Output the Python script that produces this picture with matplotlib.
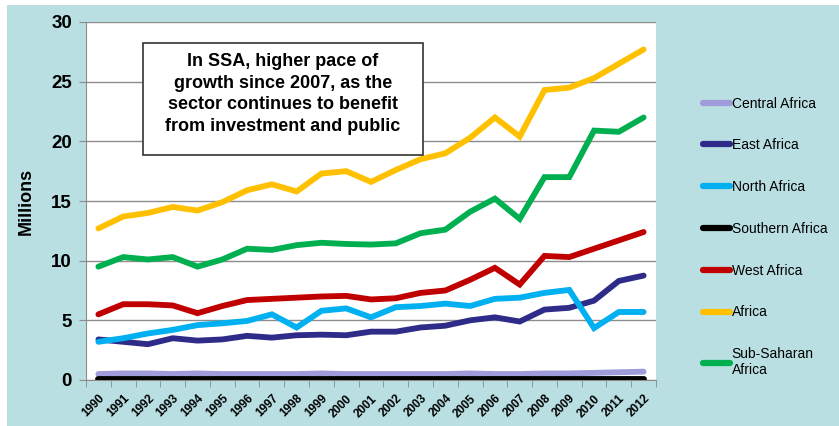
import matplotlib.pyplot as plt
from matplotlib.patches import Rectangle

plt.rcParams['font.family'] = ['Liberation Sans', 'DejaVu Sans']

years = [str(y) for y in range(1990, 2013)]

central = [0.5, 0.55, 0.55, 0.5, 0.55, 0.5, 0.5, 0.5, 0.5, 0.55, 0.5, 0.5,
           0.5, 0.5, 0.5, 0.55, 0.5, 0.5, 0.55, 0.55, 0.6, 0.65, 0.7]
east = [3.4, 3.2, 3.0, 3.5, 3.3, 3.4, 3.7, 3.55, 3.75, 3.8, 3.75, 4.05,
        4.05, 4.4, 4.55, 5.0, 5.25, 4.9, 5.9, 6.05, 6.65, 8.3, 8.75]
north = [3.2, 3.5, 3.9, 4.2, 4.6, 4.75, 4.95, 5.5, 4.4, 5.8, 6.0, 5.25,
         6.1, 6.2, 6.4, 6.2, 6.8, 6.9, 7.3, 7.55, 4.35, 5.7, 5.7]
southern = [0.05] * 23
west = [5.5, 6.35, 6.35, 6.25, 5.6, 6.2, 6.7, 6.8, 6.9, 7.0, 7.05, 6.75,
        6.85, 7.3, 7.5, 8.4, 9.4, 8.0, 10.4, 10.3, 11.0, 11.7, 12.4]
africa = [12.7, 13.7, 14.0, 14.5, 14.2, 14.9, 15.9, 16.4, 15.8, 17.3, 17.5, 16.6,
          17.6, 18.5, 19.0, 20.3, 22.0, 20.4, 24.3, 24.5, 25.3, 26.5, 27.7]
ssa = [9.5, 10.3, 10.1, 10.3, 9.5, 10.1, 11.0, 10.9, 11.3, 11.5, 11.4, 11.35,
       11.45, 12.3, 12.6, 14.1, 15.2, 13.5, 17.0, 17.0, 20.9, 20.8, 22.0]

series = [
    ('Central Africa', central, '#A09CDC'),
    ('East Africa', east, '#2E2C88'),
    ('North Africa', north, '#00B0F0'),
    ('Southern Africa', southern, '#000000'),
    ('West Africa', west, '#C00000'),
    ('Africa', africa, '#FFC000'),
    ('Sub-Saharan\nAfrica', ssa, '#00B050'),
]

W, H = 839, 426
fig = plt.figure(figsize=(W / 100, H / 100), dpi=100)
fig.patches.append(Rectangle((7 / W, 0), 1, 1 - 5 / H, transform=fig.transFigure,
                             facecolor='#B9DFE2', edgecolor='none', zorder=-10))

ax = fig.add_axes([86 / W, 46 / H, 570 / W, 358 / H])
ax.set_facecolor('white')

x = list(range(len(years)))
# draw back-to-front so Africa and SSA sit on top
draw_order = [0, 3, 1, 2, 4, 5, 6]
lines = {}
for i in draw_order:
    name, vals, col = series[i]
    ln, = ax.plot(x, vals, color=col, lw=4.2, solid_capstyle='round',
                  solid_joinstyle='miter', label=name, zorder=3)
    lines[i] = ln

ax.set_xlim(-0.5, len(years) - 0.5)
ax.set_ylim(0, 30)
ax.set_yticks(range(0, 31, 5))
ax.grid(axis='y', color='#8C8C8C', lw=1)
ax.set_axisbelow(True)
ax.tick_params(axis='y', labelsize=13.5, length=5, color='#8C8C8C', pad=5)
for lbl in ax.get_yticklabels():
    lbl.set_fontweight('bold')

ax.set_xticks(x)
ax.set_xticklabels(years, rotation=45, ha='right', rotation_mode='anchor',
                   fontsize=8.5, fontweight='bold')
ax.set_xticks([i - 0.5 for i in range(len(years) + 1)], minor=True)
ax.tick_params(axis='x', which='major', length=0, pad=9)
ax.tick_params(axis='x', which='minor', length=5, color='#8C8C8C')

for s in ['top', 'right']:
    ax.spines[s].set_visible(False)
for s in ['left', 'bottom']:
    ax.spines[s].set_color('#8C8C8C')

ax.set_ylabel('Millions', fontsize=13, fontweight='bold', labelpad=12)

# callout box
fig.patches.append(Rectangle((143 / W, 1 - 155 / H), 280 / W, 112 / H,
                             transform=fig.transFigure, facecolor='white',
                             edgecolor='#333333', lw=1.2, zorder=5))
fig.text(283 / W, 1 - 94 / H, 'In SSA, higher pace of\ngrowth since 2007, as the\n'
         'sector continues to benefit\nfrom investment and public',
         ha='center', va='center', fontsize=13, fontweight='bold',
         linespacing=1.38, zorder=6)

leg = fig.legend([lines[i] for i in range(7)], [s[0] for s in series],
                 loc='upper left', bbox_to_anchor=(690 / W, 1 - 84 / H),
                 frameon=False, fontsize=10, handlelength=2.0, handletextpad=0.1,
                 labelspacing=2.0)
for ln in leg.get_lines():
    ln.set_linewidth(4.5)

fig.savefig('out.png', dpi=100)
